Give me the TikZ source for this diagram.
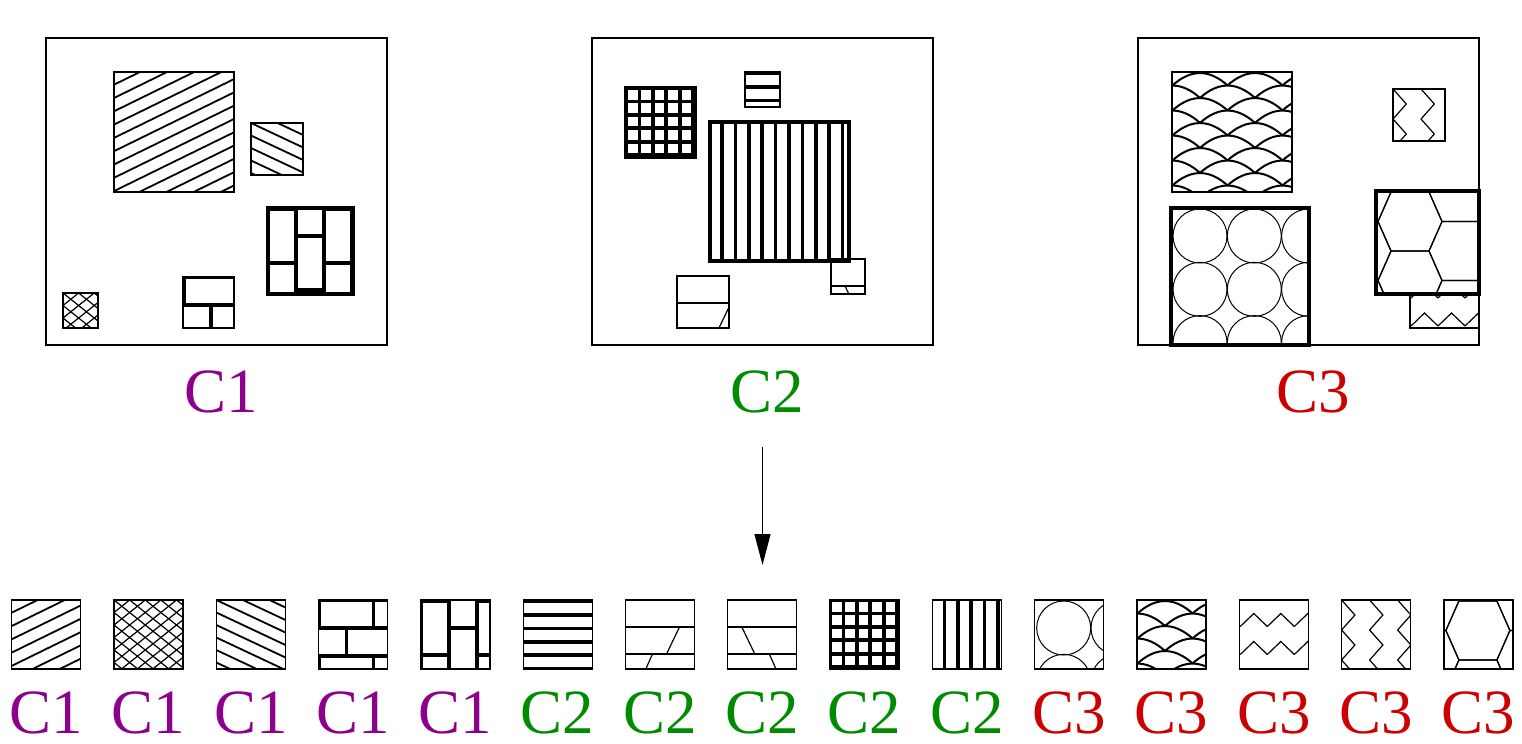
\documentclass[tikz,border=0pt]{standalone}
\usepackage{fontspec}
\setmainfont{Liberation Serif}
\usetikzlibrary{arrows.meta}
\definecolor{cone}{RGB}{140,0,140}
\definecolor{ctwo}{RGB}{0,140,0}
\definecolor{cthree}{RGB}{204,0,0}

\newcommand{\texHatchNE}[2]{%
  \foreach \k in {0,...,15}
    \draw[line width=0.9pt] (0,12.7+13.3*\k) -- ++(#1,-0.49*#1);}
\newcommand{\texHatchNW}[2]{%
  \foreach \k in {-6,...,8}
    \draw[line width=0.9pt] (0,12.5*\k) -- ++(#1,0.47*#1);}
\newcommand{\texCross}[2]{%
  \foreach \k in {-8,...,12} {
    \draw[line width=0.6pt] (0,12.5*\k) -- ++(#1,0.8*#1);
    \draw[line width=0.6pt] (0,12.5*\k) -- ++(#1,-0.8*#1);}}
\newcommand{\texBrickH}[2]{%
  \foreach \r in {0,...,3} {
    \pgfmathsetmacro\brkoff{1+27*mod(\r,2)}
    \draw[line width=1.7pt] (0,28*\r) -- ++(#1,0);
    \foreach \k in {0,1,2}
      \draw[line width=1.7pt] (\brkoff+54*\k,28*\r) -- ++(0,28);}}
\newcommand{\texBrickV}[2]{%
  \foreach \r in {0,...,3} {
    \pgfmathsetmacro\brkoff{1+27*mod(\r,2)}
    \draw[line width=1.7pt] (28*\r,0) -- ++(0,#2);
    \foreach \k in {0,1,2}
      \draw[line width=1.7pt] (28*\r,\brkoff+54*\k) -- ++(28,0);}}
\newcommand{\texStripesH}[2]{%
  \foreach \k in {0,...,10}
    \draw[line width=1.8pt] (0,1.5+13.4*\k) -- ++(#1,0);}
\newcommand{\texStripesV}[2]{%
  \foreach \k in {0,...,11}
    \draw[line width=1.8pt] (-1.4+13.4*\k,0) -- ++(0,#2);}
\newcommand{\texGrid}[2]{%
  \foreach \k in {0,...,6} {
    \draw[line width=1.9pt] (13.4*\k,0) -- ++(0,#2);
    \draw[line width=1.9pt] (0,13.4*\k) -- ++(#1,0);}}
\newcommand{\texSlantA}[2]{%
  \draw[line width=0.6pt] (0,27) -- ++(#1,0) (0,54) -- ++(#1,0);
  \draw[line width=0.6pt] (54,27) -- ++(-13,27) (27,54) -- ++(-12,27);}
\newcommand{\texSlantB}[2]{%
  \draw[line width=0.6pt] (0,27) -- ++(#1,0) (0,54) -- ++(#1,0);
  \draw[line width=0.6pt] (14,27) -- ++(13,27) (41.5,54) -- ++(12,27);}
\newcommand{\texCircles}[2]{%
  \foreach \k in {0,...,3} \foreach \m in {0,...,3}
    \draw[line width=0.5pt] (29+54.3*\k,28+53.3*\m) circle[radius=27];}
\newcommand{\texScales}[2]{%
  \foreach \m in {0,...,10} \foreach \k in {-1,...,3} {
    \pgfmathsetmacro\sclx{28+55*\k+27.5*mod(\m,2)}
    \pgfmathsetmacro\scly{1+12.5*\m}
    \draw[line width=1pt] (\sclx-27.5,\scly+12.5) parabola bend (\sclx,\scly) (\sclx+27.5,\scly+12.5);}}
\newcommand{\texZigH}[2]{%
  \foreach \m in {-1,...,3} \foreach \k in {-1,...,3}
    \draw[line width=0.6pt] (1+27*\k,26.5+28*\m) -- ++(13.5,-13) -- ++(13.5,13);}
\newcommand{\texZigHlow}[2]{%
  \begin{scope}[shift={(0,5.5)}]\texZigH{#1}{#2}\end{scope}}
\newcommand{\texZigV}[2]{%
  \foreach \k in {-1,...,3} \foreach \m in {-1,...,4}
    \draw[line width=0.6pt] (28*\k,30*\m) -- ++(13.3,15) -- ++(-13.3,15);}
\newcommand{\texHex}[2]{%
  \foreach \hi in {-1,...,3} \foreach \hj in {-1,...,2} {
    \pgfmathsetmacro\hexx{34+51*\hi}
    \pgfmathsetmacro\hexy{30.5+59*\hj+29.5*mod(\hi,2)}
    \draw[line width=0.6pt] (\hexx-32,\hexy) -- ++(13,-29.5) -- ++(38,0)
      -- ++(13,29.5) -- ++(-13,29.5) -- ++(-38,0) -- cycle;}}

\newcommand{\texbox}[6][box]{%
  \begin{scope}
    \clip (#3,#4) rectangle ++(#5,#6);
    \begin{scope}[shift={(#3,#4)}]
      #2{#5}{#6}
    \end{scope}
  \end{scope}
  \draw[#1] (#3,#4) rectangle ++(#5,#6);}

\begin{document}
\begin{tikzpicture}[x=0.5pt,y=-0.5pt,
    panel/.style={line width=0.65pt},
    box/.style={line width=0.65pt},
    boxthick/.style={line width=1.6pt},
    lbl/.style={font=\fontsize{31.5}{36}\selectfont,anchor=base,inner sep=0pt,
                text depth=0pt},
    arr/.style={-{Triangle[length=15.5pt,width=8pt]},line width=0.65pt}]
  \useasboundingbox (0,0) rectangle (1522,744);

  % three input images
  \draw[panel] (46,38) rectangle (387,345);
  \draw[panel] (592,38) rectangle (933,345);
  \draw[panel] (1138,38) rectangle (1479,345);

  \texbox{\texHatchNE}{114}{72}{120}{120}
  \texbox{\texHatchNW}{251}{123}{52}{52}
  \texbox[boxthick]{\texBrickV}{268}{208}{85}{86}
  \texbox{\texBrickH}{183}{277}{51}{51}
  \texbox{\texCross}{63}{293}{35}{35}

  \texbox[boxthick]{\texGrid}{626}{88}{69}{69}
  \texbox{\texStripesH}{745}{72}{35}{35}
  \texbox[boxthick]{\texStripesV}{710}{122}{139}{139}
  \texbox{\texSlantB}{831}{259}{34}{35}
  \texbox{\texSlantA}{677}{276}{52}{52}

  \texbox{\texScales}{1172}{72}{120}{120}
  \texbox{\texZigV}{1393}{89}{52}{52}
  \texbox[boxthick]{\texCircles}{1171}{208}{138}{137}
  \texbox[boxthick]{\texHex}{1376}{191}{103}{103}
  \texbox{\texZigHlow}{1410}{294}{69}{34}

  \node[lbl,text=cone] (top1) at (221,412) {C1};
  \node[lbl,text=ctwo] (top2) at (767,412) {C2};
  \node[lbl,text=cthree] (top3) at (1313,412) {C3};

  \coordinate (split) at (762.5,447);
  \coordinate (row) at (762.5,565);
  \draw[arr] (split) -- (row);

  % extracted textures
  \foreach \t/\c/\n [count=\i from 0] in {\texHatchNE/cone/C1,\texCross/cone/C1,
      \texHatchNW/cone/C1,\texBrickH/cone/C1,\texBrickV/cone/C1,
      \texStripesH/ctwo/C2,\texSlantA/ctwo/C2,\texSlantB/ctwo/C2,
      \texGrid/ctwo/C2,\texStripesV/ctwo/C2,
      \texCircles/cthree/C3,\texScales/cthree/C3,\texZigH/cthree/C3,
      \texZigV/cthree/C3,\texHex/cthree/C3} {
    \pgfmathsetmacro\xx{11.7+102.3*\i}
    \texbox{\t}{\xx}{600}{69}{69}
    \node[lbl,text=\c] (sw\i) at (\xx+34.5,733) {\n};
  }
\end{tikzpicture}
\end{document}
